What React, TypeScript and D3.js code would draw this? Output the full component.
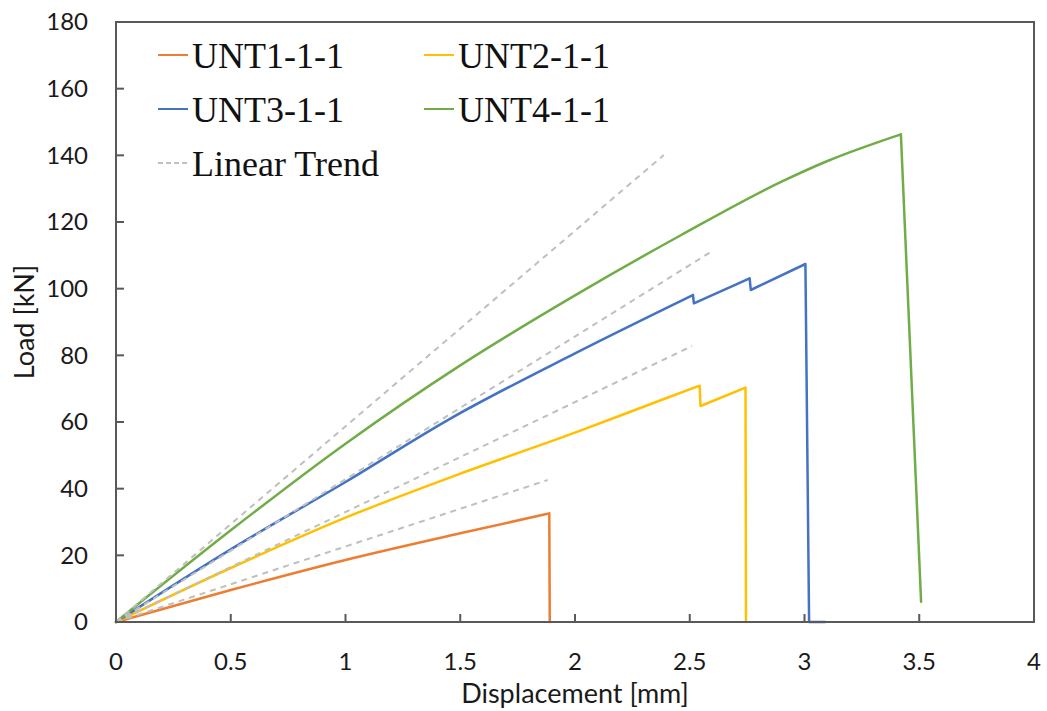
import React from 'react';
import * as d3 from 'd3';

type Pt = [number, number];

// load-displacement curves (displacement mm, load kN)
const unt1: Pt[] = [[0, 0], [0.5, 9.6], [1, 18.6], [1.5, 26.6], [1.888, 32.6], [1.89, 0]];
const unt2: Pt[] = [[0, 0], [0.5, 16.2], [1, 31.3], [1.5, 44.5], [2, 56.8], [2.376, 66.6], [2.543, 70.9], [2.547, 64.8], [2.743, 70.3], [2.745, 0]];
const unt3: Pt[] = [[0, 0], [0.5, 21.8], [1, 42], [1.459, 61.1], [2, 80.6], [2.514, 98.1], [2.518, 95.6], [2.761, 103.1], [2.766, 99.6], [3.004, 107.4], [3.02, 0], [3.09, 0]];
const unt4: Pt[] = [[0, 0], [0.5, 27.5], [1, 53.5], [1.5, 77], [2, 98], [2.463, 116.1], [2.9, 132.1], [3.1, 138.3], [3.42, 146.3], [3.508, 6.1]];

// linear trend end points (each starts at the origin)
const trendEnds: Pt[] = [[1.881, 42.6], [2.51, 82.8], [2.587, 110.8], [2.387, 140.1]];

const seriesNames = ['UNT1-1-1', 'UNT2-1-1', 'UNT3-1-1', 'UNT4-1-1'];
const seriesColors = ['#ED7D31', '#FFC000', '#4472C4', '#70AD47'];
const seriesData = [unt1, unt2, unt3, unt4];

const xTicks = [0, 0.5, 1, 1.5, 2, 2.5, 3, 3.5, 4];
const yTicks = [0, 20, 40, 60, 80, 100, 120, 140, 160, 180];

const W = 1047;
const H = 711;
const margin = { left: 116, right: 13, top: 22, bottom: 89 };

// split a curve into rising parts (smoothed) and load drops (straight)
function pieces(d: Pt[]) {
  const out: { pts: Pt[]; smooth: boolean }[] = [];
  let run: Pt[] = [d[0]];
  for (let i = 1; i < d.length; i++) {
    if (d[i][1] < d[i - 1][1]) {
      if (run.length > 1) out.push({ pts: run, smooth: true });
      out.push({ pts: [d[i - 1], d[i]], smooth: false });
      run = [d[i]];
    } else {
      run.push(d[i]);
    }
  }
  if (run.length > 1) out.push({ pts: run, smooth: true });
  return out;
}

export default function App() {
  const x = d3.scaleLinear().domain([0, 4]).range([margin.left, W - margin.right]);
  const y = d3.scaleLinear().domain([0, 180]).range([H - margin.bottom, margin.top]);

  const line = d3.line<Pt>()
    .x(d => x(d[0]))
    .y(d => y(d[1]));
  const smoothLine = d3.line<Pt>()
    .x(d => x(d[0]))
    .y(d => y(d[1]))
    .curve(d3.curveMonotoneX);

  const tickFont = 'Lato, "Open Sans", sans-serif';
  const legendFont = '"Liberation Serif", "Times New Roman", serif';
  const axisColor = '#595959';
  const textColor = '#1a1a1a';

  // legend layout: two columns, three rows
  const legendItems = [
    { name: seriesNames[0], color: seriesColors[0], col: 0, row: 0, dash: false },
    { name: seriesNames[1], color: seriesColors[1], col: 1, row: 0, dash: false },
    { name: seriesNames[2], color: seriesColors[2], col: 0, row: 1, dash: false },
    { name: seriesNames[3], color: seriesColors[3], col: 1, row: 1, dash: false },
    { name: 'Linear Trend', color: '#BFBFBF', col: 0, row: 2, dash: true },
  ];

  return (
    <svg
      width={W}
      height={H}
      style={{ position: 'absolute', left: 0, top: 0, background: '#fff' }}
    >
      {/* series */}
      {seriesData.map((d, i) => (
        <path
          key={seriesNames[i]}
          d={pieces(d).map(p => (p.smooth ? smoothLine(p.pts) : line(p.pts)) || '').join('')}
          fill="none"
          stroke={seriesColors[i]}
          strokeWidth={2.5}
          strokeLinecap="round"
          strokeLinejoin="round"
        />
      ))}

      {/* linear trends */}
      {trendEnds.map((e, i) => (
        <path
          key={'trend' + i}
          d={line([[0, 0], e]) || ''}
          fill="none"
          stroke="#BFBFBF"
          strokeWidth={2}
          strokeDasharray="6,5"
        />
      ))}

      {/* frame */}
      <rect
        x={x(0)}
        y={y(180)}
        width={x(4) - x(0)}
        height={y(0) - y(180)}
        fill="none"
        stroke={axisColor}
        strokeWidth={2}
      />

      {/* x ticks */}
      {xTicks.map(t => (
        <g key={'xt' + t}>
          {t > 0 && t < 4 && (
            <line x1={x(t)} x2={x(t)} y1={y(0)} y2={y(0) - 8} stroke={axisColor} strokeWidth={2} />
          )}
          <text
            x={x(t)}
            y={y(0) + 48}
            textAnchor="middle"
            fontFamily={tickFont}
            fontSize={24}
            fill={textColor}
          >
            {t}
          </text>
        </g>
      ))}

      {/* y ticks */}
      {yTicks.map(t => (
        <g key={'yt' + t}>
          {t > 0 && t < 180 && (
            <line x1={x(0)} x2={x(0) + 8} y1={y(t)} y2={y(t)} stroke={axisColor} strokeWidth={2} />
          )}
          <text
            x={88}
            y={y(t)}
            dy="0.35em"
            textAnchor="end"
            fontFamily={tickFont}
            fontSize={24}
            fill={textColor}
          >
            {t}
          </text>
        </g>
      ))}

      {/* axis titles */}
      <text
        x={(x(0) + x(4)) / 2}
        y={703}
        textAnchor="middle"
        fontFamily={tickFont}
        fontSize={27}
        fill={textColor}
      >
        Displacement [mm]
      </text>
      <text
        transform={`translate(34, ${(y(0) + y(180)) / 2}) rotate(-90)`}
        textAnchor="middle"
        fontFamily={tickFont}
        fontSize={27}
        fill={textColor}
      >
        Load [kN]
      </text>

      {/* legend */}
      {legendItems.map(it => {
        const lx = 158 + it.col * 266;
        const by = 68 + it.row * 54;
        return (
          <g key={it.name}>
            <line
              x1={lx}
              x2={lx + 30}
              y1={by - 13}
              y2={by - 13}
              stroke={it.color}
              strokeWidth={2}
              strokeDasharray={it.dash ? '5,3' : undefined}
            />
            <text x={lx + 34} y={by} fontFamily={legendFont} fontSize={36} fill="#111">
              {it.name}
            </text>
          </g>
        );
      })}
    </svg>
  );
}
